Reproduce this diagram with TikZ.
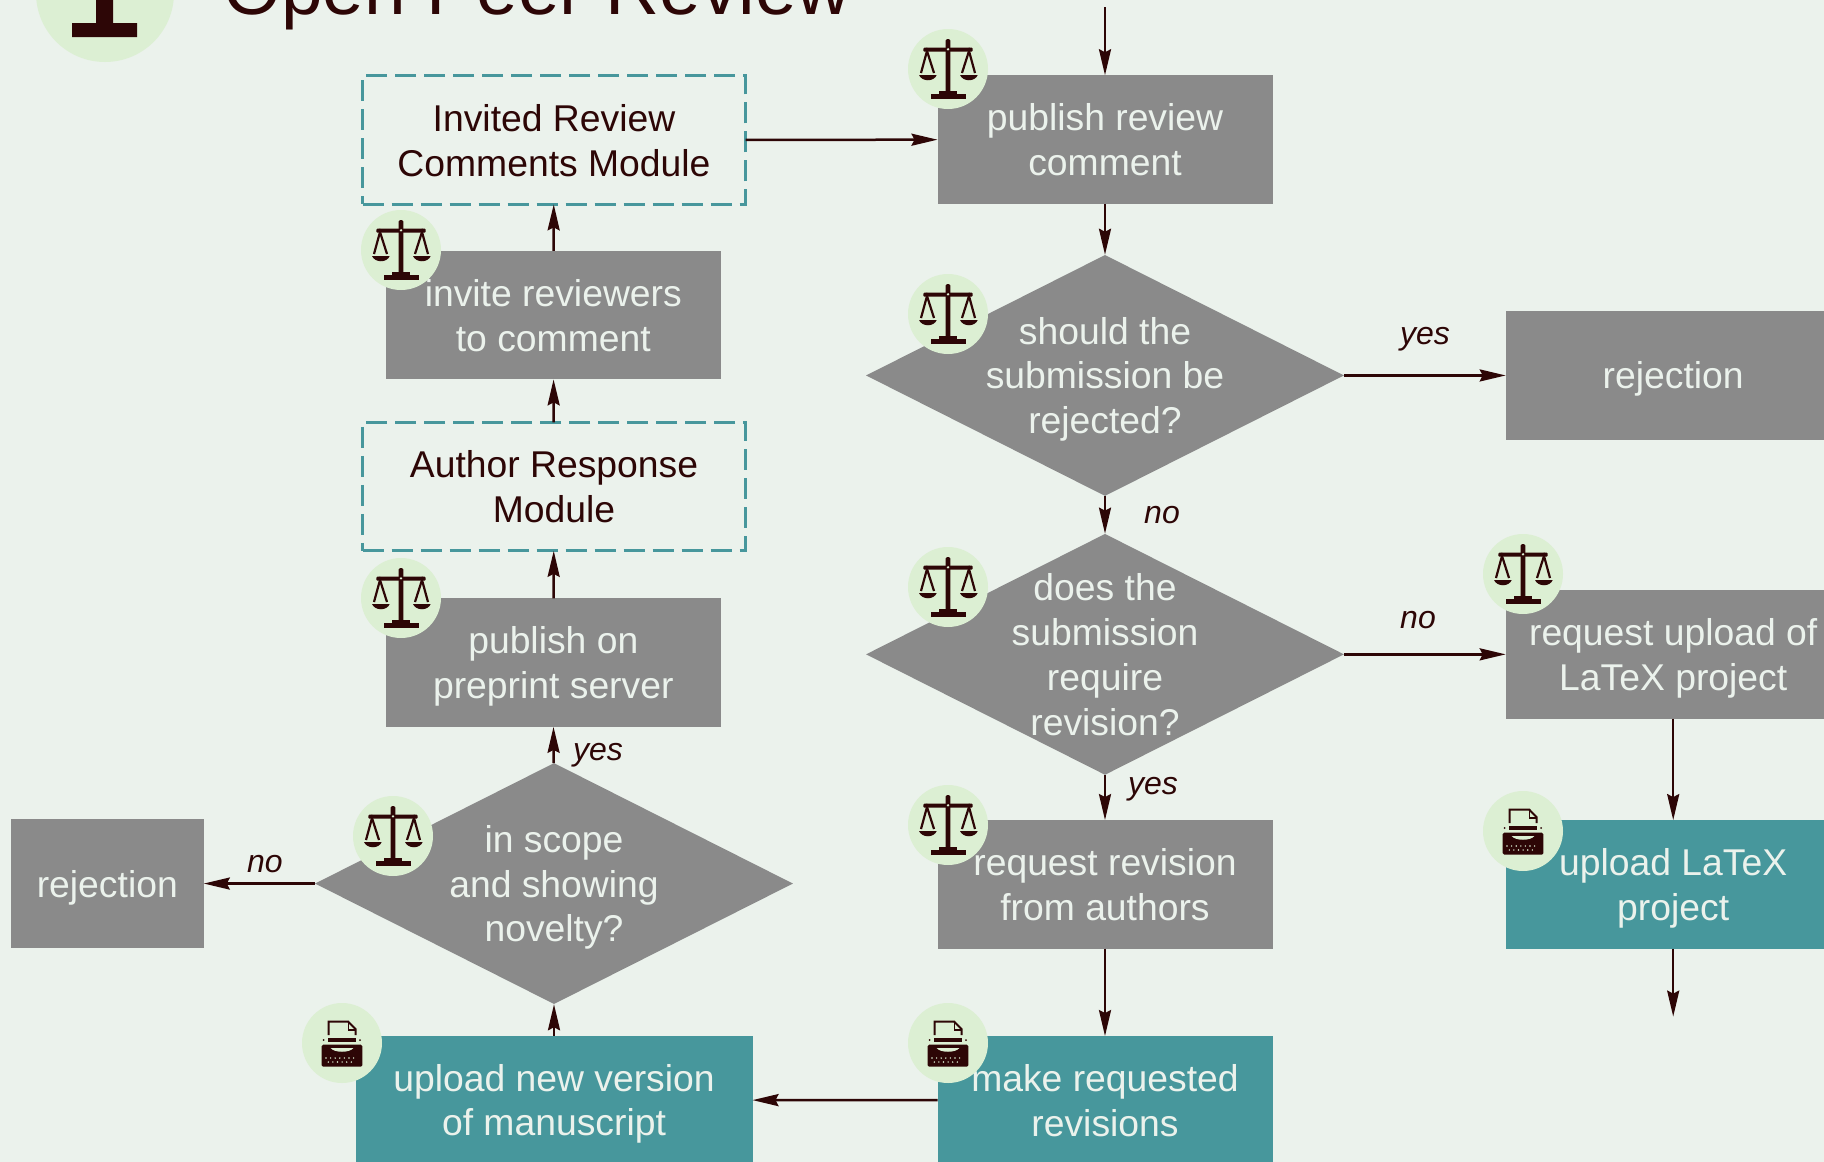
\documentclass[tikz,border=0pt]{standalone}
\usepackage{fontspec}
\setmainfont{Liberation Sans}
\usetikzlibrary{
  positioning,
  shapes.geometric,
  graphs,
  arrows.meta,
}
\definecolor{paperbg}{HTML}{EBF2EC}
\definecolor{greybox}{HTML}{8A8A8A}
\definecolor{tealbox}{HTML}{47979C}
\definecolor{badgebg}{HTML}{DCEFD3}
\definecolor{inkdark}{HTML}{2D0606}
\tikzset{
  x=1pt,
  y=-1pt,
  >={Stealth[length=26pt,width=12pt,inset=3pt]},
  every new ->/.style={
    line width=2.5pt,
    inkdark,
  },
  block/.style={
    rectangle,
    minimum width=335pt,
    minimum height=128.5pt,
    inner sep=0pt,
    outer sep=0pt,
    align=center,
    text depth=0pt,
    execute at begin node={\vspace*{3.5pt}},
    font=\fontsize{37.3}{44.8}\selectfont,
  },
  editorial/.style={
    block,
    fill=greybox,
    text=paperbg,
  },
  authorstep/.style={
    block,
    fill=tealbox,
    text=paperbg,
  },
  modulebox/.style={
    block,
    minimum width=383pt,
    draw=tealbox,
    line width=3pt,
    dash pattern=on 21pt off 8pt,
    text=inkdark,
  },
  decision/.style={
    diamond,
    minimum width=478pt,
    minimum height=241pt,
    inner sep=0pt,
    fill=greybox,
  },
  decisiontext/.style={
    align=center,
    inner sep=0pt,
    text depth=0pt,
    execute at begin node={\vspace*{3.5pt}},
    text=paperbg,
    font=\fontsize{37.3}{44.8}\selectfont,
  },
  answer/.style={
    inner sep=0pt,
    text depth=0pt,
    text=inkdark,
    font=\fontsize{32}{38}\selectfont\itshape,
  },
  badge/.style={
    circle,
    minimum size=80pt,
    inner sep=0pt,
    fill=badgebg,
  },
  scalesicon/.pic={
    \fill[inkdark, rounded corners=1.5pt] (-2.3,26) -- (-2.3,-30) -- (2.3,-30) -- (2.3,26) -- cycle;
    \fill[inkdark, rounded corners=1pt] (-24.7,-21.3) rectangle (24.7,-17.3);
    \fill[inkdark] (-17.3,25) rectangle (17.7,29.7);
    \fill[inkdark] (-8.7,22) rectangle (9.3,25);
    \fill[badgebg] (0,-19.7) circle (1.3);
    \draw[inkdark, line width=2.2pt] (-27,4) -- (-21,-18) -- (-14,4);
    \draw[inkdark, line width=2.2pt] (14,4) -- (21,-18) -- (27,4);
    \fill[inkdark] (-29,6) .. controls (-26,13) and (-14,13) .. (-11.3,6) -- cycle;
    \fill[inkdark] (12,6) .. controls (15,13) and (27,13) .. (29.7,6) -- cycle;
  },
  typewritericon/.pic={
    \draw[inkdark, line width=2pt] (-13.3,-8) -- (-13.3,-21.3) -- (6.3,-21.3) -- (13.7,-13.7) -- (13.7,-8);
    \draw[inkdark, line width=1.6pt] (6.3,-21.3) -- (6.3,-13) -- (13.7,-13);
    \fill[inkdark] (-14.3,-5.3) rectangle (14.3,-0.7);
    \fill[inkdark] (-18.3,-3) circle (1) (18,-3) circle (1);
    \fill[inkdark, rounded corners=1.5pt] (-20.3,1.7) rectangle (20.3,23.7);
    \fill[badgebg] (-11.3,5) .. controls (-8,10) and (8,10) .. (11.3,5) -- cycle;
    \foreach \dotx in {-16,-11.4,...,16.2}
      \fill[badgebg] (\dotx,15) circle (0.8);
    \foreach \dotx in {-13.7,-9.1,...,13.8}
      \fill[badgebg] (\dotx,19) circle (0.8);
  },
}
\begin{document}
\begin{tikzpicture}
  \path[use as bounding box, clip] (0,0) rectangle (1824,1162);
  \fill[paperbg] (0,0) rectangle (1824,1162);

  \node[badge, minimum size=138pt] (bigbadge) at (105,-7) {};
  \fill[inkdark] (96,-5) rectangle (113,24) (72,23) rectangle (137,37);
  \node[anchor=base west, inner sep=0pt, text=inkdark, font=\fontsize{74.8}{88}\selectfont] (title) at (223,14) {Open Peer Review};

  \node[authorstep, minimum width=397pt] (uploadnew) at (554,1100) {upload new version\\of manuscript};
  \node[decision, above=31.5pt of uploadnew, label={[decisiontext]center:in scope\\and showing\\novelty?}] (inscope) {};
  \node[editorial, minimum width=193pt, left=111pt of inscope] (rejectleft) {rejection};
  \node[editorial, above=36pt of inscope, xshift=-0.7pt] (preprint) {publish on\\preprint server};
  \node[modulebox, above=47.5pt of preprint, xshift=0.7pt] (authormodule) {Author Response\\Module};
  \node[editorial, above=43pt of authormodule, xshift=-0.7pt] (invite) {invite reviewers\\to comment};
  \node[modulebox, above=46.5pt of invite, xshift=0.7pt] (invitedmodule) {Invited Review\\Comments Module};

  \node[editorial] (publishcomment) at (1105,139.5) {publish review\\comment};
  \node[decision, below=51pt of publishcomment, label={[decisiontext]center:should the\\submission be\\rejected?}] (shouldreject) {};
  \node[decision, below=37.5pt of shouldreject, label={[decisiontext]center:does the\\submission\\require\\revision?}] (needrevision) {};
  \node[editorial, below=45pt of needrevision] (requestrevision) {request revision\\from authors};
  \node[authorstep, below=87.5pt of requestrevision] (makerevisions) {make requested\\revisions};

  \node[editorial, right=161.5pt of shouldreject] (rejectright) {rejection};
  \node[editorial, right=161.5pt of needrevision] (requestlatex) {request upload of\\LaTeX project};
  \node[authorstep, below=101.5pt of requestlatex] (uploadlatex) {upload LaTeX\\project};

  \coordinate (flowin) at (1105,7);
  \coordinate[below=68pt of uploadlatex] (flowout);

  \graph [use existing nodes] {
    makerevisions -> uploadnew -> inscope -> preprint -> authormodule -> invite -> invitedmodule -> publishcomment;
    inscope -> rejectleft;
    flowin -> publishcomment -> shouldreject -> needrevision -> requestrevision -> makerevisions;
    shouldreject -> rejectright;
    needrevision -> requestlatex -> uploadlatex -> flowout;
  };

  \node[answer] (yesreject) at (1425,336) {yes};
  \node[answer] (noreject) at (1162,515) {no};
  \node[answer] (norevision) at (1418,620) {no};
  \node[answer] (yesrevision) at (1153,786) {yes};
  \node[answer] (yesscope) at (598,752) {yes};
  \node[answer] (noscope) at (265,864) {no};

  \node[badge] (badgecomment) at (948,69) {};
  \node[badge] (badgeinvite) at (401,250) {};
  \node[badge] (badgepreprint) at (401,598) {};
  \node[badge] (badgescope) at (393,836) {};
  \node[badge] (badgereject) at (948,314) {};
  \node[badge] (badgerevision) at (948,587) {};
  \node[badge] (badgerequest) at (948,825) {};
  \node[badge] (badgelatex) at (1523,574) {};
  \node[badge] (badgenew) at (342,1043) {};
  \node[badge] (badgemake) at (948,1043) {};
  \node[badge] (badgeupload) at (1523,831) {};

  \foreach \badgename in {badgecomment,badgeinvite,badgepreprint,badgescope,badgereject,badgerevision,badgerequest,badgelatex}
    \pic at (\badgename) {scalesicon};
  \foreach \badgename in {badgenew,badgemake,badgeupload}
    \pic at (\badgename) {typewritericon};
\end{tikzpicture}
\end{document}
